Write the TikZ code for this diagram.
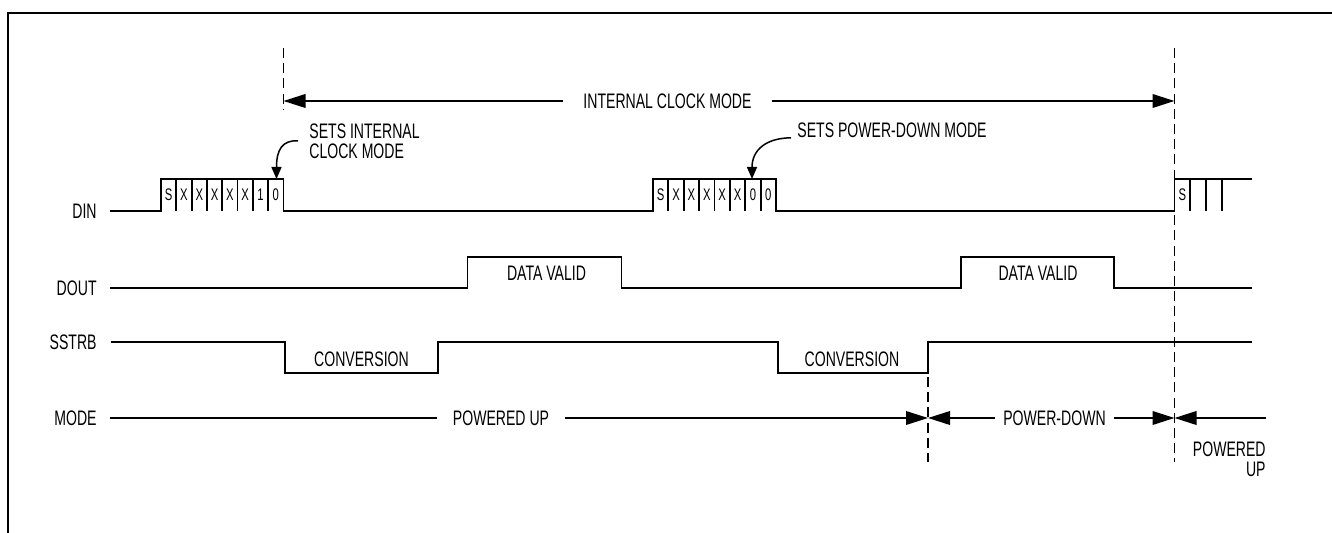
\documentclass[tikz,border=0pt]{standalone}
\usepackage{fontspec}
\setmainfont{Liberation Sans}[FakeStretch=0.67]
\usetikzlibrary{arrows.meta}
\begin{document}
\begin{tikzpicture}[x=0.5pt,y=-0.5pt,
    sig/.style={line width=0.9pt},
    vline/.style={line width=0.75pt,dash pattern=on 5pt off 2.6pt},
    lbl/.style={font=\fontsize{10.5}{10}\selectfont,inner sep=0pt},
    bit/.style={font=\fontsize{8.4}{8}\selectfont,inner sep=0pt},
    big/.style={-{Triangle[length=11pt,width=6.8pt]},line width=0.9pt},
    hook/.style={-{Triangle[length=6pt,width=5pt]},line width=0.75pt}]
    \useasboundingbox (0,0) rectangle (1332,533);
    \draw[line width=1.1pt] (8,533) -- (8,13) -- (1332,13);
    \node[lbl,anchor=east] (din) at (97,211) {DIN};
    \node[lbl,anchor=east] (dout) at (97,288) {DOUT};
    \node[lbl,anchor=east] (sstrb) at (97,342) {SSTRB};
    \node[lbl,anchor=east] (mode) at (97,418) {MODE};
    \draw[sig] (110,211) -- (161,211) -- (161,179) -- (283.5,179) -- (283.5,211) -- (653,211) -- (653,179) -- (776,179) -- (776,211) -- (1174.5,211) -- (1174.5,179) -- (1252,179);
    \foreach \i in {1,...,7} \draw[sig] (161+15.31*\i,179) -- ++(0,32);
    \foreach \t [count=\i] in {S,X,X,X,X,X,1,0} \node[bit] at (161+15.31*\i-7.65,195) {\t};
    \foreach \i in {1,...,7} \draw[sig] (653+15.375*\i,179) -- ++(0,32);
    \foreach \t [count=\i] in {S,X,X,X,X,X,0,0} \node[bit] at (653+15.375*\i-7.7,195) {\t};
    \foreach \i in {1,2,3} \draw[sig] (1174.5+15.7*\i,179) -- ++(0,32);
    \node[bit] at (1182.4,195) {S};
    \draw[sig] (110,288) -- (467.5,288) -- (467.5,257) -- (621.5,257) -- (621.5,288) -- (961,288) -- (961,257) -- (1114,257) -- (1114,288) -- (1252,288);
    \node[lbl] (valid1) at (546.5,273) {DATA VALID};
    \node[lbl] (valid2) at (1038,273) {DATA VALID};
    \draw[sig] (111,342) -- (285,342) -- (285,373) -- (438,373) -- (438,342) -- (778,342) -- (778,373) -- (928,373) -- (928,342) -- (1252,342);
    \node[lbl] (conv1) at (361.5,359) {CONVERSION};
    \node[lbl] (conv2) at (852,359) {CONVERSION};
    \draw[vline] (283.5,48) -- (283.5,110);
    \draw[vline] (928,377) -- (928,462);
    \draw[vline] (1174.5,48) -- (1174.5,462);
    \coordinate (clkon) at (283.5,101);
    \coordinate (clkoff) at (1174.5,101);
    \node[lbl,inner xsep=10pt] (icm) at (667.5,101) {INTERNAL CLOCK MODE};
    \draw[big] (icm.west) -- (clkon);
    \draw[big] (icm.east) -- (clkoff);
    \node[lbl,inner xsep=5.5pt,anchor=north west,align=left] (setsint) at (298,123) {SETS INTERNAL\\CLOCK MODE};
    \coordinate (bit0) at (276.5,179);
    \draw[hook] (setsint.west) .. controls (282,140) and (276.5,150) .. (bit0);
    \node[lbl,inner xsep=3pt,anchor=west] (setspd) at (791,130) {SETS POWER-DOWN MODE};
    \coordinate (bit1) at (752,179);
    \draw[hook] (setspd.south west) .. controls (766,138) and (752,150) .. (bit1);
    \coordinate (modein) at (110,418);
    \coordinate (pdon) at (928,418);
    \coordinate (pdoff) at (1174.5,418);
    \coordinate (modeout) at (1266,418);
    \node[lbl,inner xsep=8pt] (up) at (501,418) {POWERED UP};
    \node[lbl,inner xsep=4pt] (down) at (1054.5,418) {POWER-DOWN};
    \draw[sig] (modein) -- (up.west);
    \draw[big] (up.east) -- (pdon);
    \draw[big] (down.west) -- (pdon);
    \draw[big] (down.east) -- (pdoff);
    \draw[big] (modeout) -- (pdoff);
    \node[lbl,anchor=north east,align=right] (upagain) at (1266,441) {POWERED\\UP};
\end{tikzpicture}
\end{document}
